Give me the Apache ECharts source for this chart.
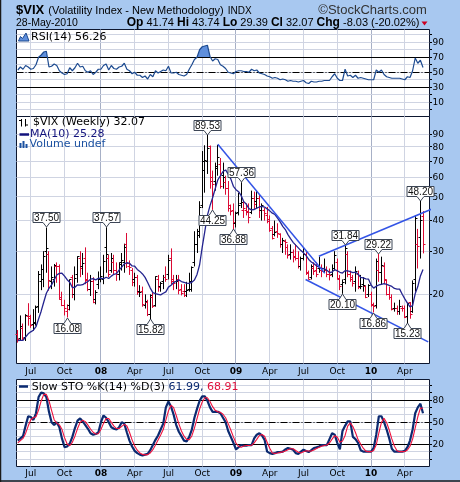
<!DOCTYPE html>
<html>
<head>
<meta charset="utf-8">
<title>$VIX weekly</title>
<script src="https://cdn.jsdelivr.net/npm/echarts@6/dist/echarts.min.js"></script>
<style>
  html, body { margin: 0; padding: 0; background: #a8c8f0; }
  #chart { width: 460px; height: 482px; }
</style>
</head>
<body>
<div id="chart"></div>
<script>
// ---------- weekly bars: Friday dates, 1 Jun 2007 .. 28 May 2010 ----------
const BAR_COUNT = 157;
const weeks = [];
for (let i = 0, t = Date.UTC(2007, 5, 1); i < BAR_COUNT; i++, t += 7 * 86400000) {
  weeks.push(new Date(t).toISOString().slice(0, 10));
}
// two empty slots to the right of the last bar
const categories = weeks.concat(['2010-06-04', '2010-06-11']);

const open = [
  13.7,13.2,14.5,13.3,16.3,16.0,15.1,15.3,17.8,22.5,
  23.0,30.0,29.0,22.5,23.0,26.0,26.0,19.5,18.0,17.0,
  18.0,23.5,20.0,24.0,28.0,26.0,28.0,23.0,21.0,22.5,
  19.0,22.0,23.0,23.0,31.0,28.0,25.0,27.0,25.0,24.0,
  27.0,27.0,32.0,26.0,25.0,23.0,23.5,20.5,20.5,18.0,
  18.5,16.5,19.5,18.0,23.0,21.5,22.5,23.5,24.0,28.0,
  23.0,22.5,23.0,21.0,20.5,20.5,21.0,21.0,27.0,32.0,
  36.0,46.0,64.0,70.0,80.0,58.0,58.0,65.0,68.0,61.0,
  57.0,54.0,46.0,44.0,39.0,43.0,47.0,44.0,44.0,43.0,
  43.0,49.0,48.0,49.0,44.0,44.0,42.0,40.5,37.0,35.0,
  36.0,35.0,32.0,33.0,31.0,29.0,29.5,28.5,28.0,26.0,
  28.0,29.0,24.5,23.5,25.5,25.0,25.5,25.0,25.5,25.0,
  24.0,24.0,25.5,27.0,23.0,22.0,23.0,29.0,24.0,23.0,
  22.5,24.0,21.5,22.0,21.5,20.0,20.0,18.0,18.0,25.0,
  24.5,26.0,23.0,20.0,19.5,17.5,17.5,17.0,17.5,17.5,
  16.2,18.5,17.0,23.0,32.0,34.0,41.74
];
const high = [
  14.3,16.4,15.2,16.6,18.4,16.5,17.4,18.0,24.9,26.5,
  30.0,37.50,30.0,26.0,26.6,27.0,26.5,20.5,19.0,18.2,
  23.0,24.0,26.0,28.6,30.0,29.5,31.1,24.5,24.0,23.5,
  20.8,24.8,26.0,29.0,37.57,29.0,29.5,29.0,27.0,27.0,
  29.5,32.2,35.6,27.5,25.6,24.5,24.0,21.8,21.5,20.0,
  19.0,20.0,20.3,23.7,24.0,22.5,24.0,26.0,29.0,30.8,
  24.0,24.0,24.0,22.0,22.0,22.5,24.5,26.0,36.2,37.0,
  48.0,76.9,81.2,89.53,81.0,64.0,69.0,81.48,72.0,69.0,
  61.0,58.0,46.5,47.0,43.5,52.0,57.36,48.0,47.0,47.0,
  53.0,52.5,53.0,51.0,47.0,45.0,45.5,42.0,38.0,40.0,
  39.0,35.5,34.0,33.5,32.0,32.0,30.5,32.0,30.0,28.5,
  31.0,30.0,25.0,26.5,27.0,27.0,28.5,26.5,28.0,26.0,
  25.5,26.5,30.0,28.0,24.0,23.0,31.84,30.0,25.0,24.0,
  26.0,25.0,24.0,23.5,21.7,22.0,20.5,18.5,28.0,29.22,
  28.5,27.0,23.0,21.5,20.0,18.5,18.0,19.0,18.0,18.0,
  18.5,18.6,22.8,42.15,37.0,48.20,43.74
];
const low = [
  12.7,12.9,12.9,12.9,14.9,14.6,14.2,14.9,16.8,20.8,
  21.4,24.5,20.7,21.0,21.5,22.3,19.0,17.9,16.4,16.08,
  17.2,19.3,18.9,22.3,23.5,24.0,22.0,20.6,19.7,18.4,
  18.2,21.0,22.4,22.0,24.5,23.5,24.5,24.0,22.7,22.8,
  25.0,24.5,25.6,24.0,21.6,21.5,19.9,19.5,17.8,17.5,
  16.3,15.82,17.6,17.8,20.5,20.5,21.0,22.5,23.0,22.0,
  20.8,21.0,20.0,19.8,19.5,19.5,20.5,20.5,26.0,29.5,
  34.0,45.0,52.0,62.0,54.0,44.25,53.0,61.0,54.0,54.0,
  51.0,43.5,42.0,36.88,37.5,42.0,45.0,41.0,42.0,39.0,
  42.5,44.5,45.0,41.0,40.0,40.0,39.0,36.0,33.5,34.5,
  34.0,31.0,29.5,29.0,28.0,27.7,27.0,27.5,25.5,25.0,
  27.5,24.0,23.0,23.0,24.0,23.5,24.5,23.5,24.5,23.5,
  22.8,23.5,25.0,23.0,20.8,20.10,22.0,23.5,22.5,21.5,
  20.5,21.0,21.0,20.5,19.3,19.5,17.8,16.86,17.5,22.5,
  22.0,22.0,19.8,19.0,17.2,17.0,16.5,16.5,17.0,16.0,
  15.23,15.9,16.8,20.5,25.5,28.0,29.39
];
const close = [
  13.05,14.73,13.22,16.40,16.23,14.98,15.15,17.61,24.17,25.16,
  28.44,30.67,22.88,23.38,26.23,26.00,19.00,18.00,17.50,17.40,
  22.96,19.97,23.21,28.50,25.49,26.84,22.87,20.85,22.60,18.47,
  20.26,23.17,23.68,27.18,29.02,24.02,28.01,25.02,24.06,26.54,
  27.49,31.16,26.62,25.71,22.45,23.46,20.29,20.34,18.18,18.78,
  16.47,19.82,17.83,23.56,21.35,22.24,23.44,23.00,27.49,22.48,
  22.19,22.57,20.66,20.13,19.82,20.65,22.64,25.66,32.07,34.74,
  45.14,69.95,70.33,79.13,59.89,56.10,66.31,72.67,55.28,59.93,
  54.28,44.93,43.38,39.19,42.82,46.11,47.27,44.84,43.37,41.25,
  49.30,46.35,49.33,43.91,45.89,42.64,39.70,36.53,33.94,35.84,
  35.30,32.05,33.12,32.63,28.92,29.62,28.15,27.99,25.93,27.95,
  29.02,24.34,23.09,25.92,24.80,24.20,25.01,24.76,25.26,24.15,
  23.92,25.61,28.68,23.12,21.43,22.27,30.69,24.19,23.36,22.19,
  24.74,21.25,21.59,21.68,19.47,21.68,18.13,17.91,27.31,24.62,
  26.11,22.73,20.02,19.50,17.42,17.58,16.97,17.77,17.47,16.14,
  18.36,16.62,22.05,40.95,31.24,40.10,32.07
];
const ma10 = [
  12.96,12.97,12.97,13.39,13.80,14.06,14.28,14.75,15.87,17.07,
  18.61,20.20,21.17,21.87,22.87,23.97,24.35,24.39,23.73,22.95,
  22.40,21.33,21.37,21.88,21.80,21.89,22.27,22.56,23.07,23.18,
  22.91,23.23,23.27,23.14,23.49,23.21,23.73,24.14,24.29,25.10,
  25.82,26.62,26.91,26.77,26.11,26.05,25.28,24.81,24.22,23.45,
  22.35,21.21,20.33,20.12,20.01,19.89,20.20,20.47,21.40,21.77,
  22.34,22.62,22.90,22.56,22.40,22.24,22.16,22.43,22.89,24.11,
  26.41,31.15,36.11,42.01,46.02,49.57,53.93,58.63,60.95,63.47,
  64.39,61.89,59.19,55.20,53.49,52.49,50.59,47.80,46.61,44.74,
  44.25,44.39,44.98,45.46,45.76,45.42,44.66,43.83,42.88,42.34,
  40.94,39.51,37.89,36.76,35.07,33.77,32.61,31.76,30.96,30.17,
  29.54,28.77,27.76,27.09,26.68,26.14,25.83,25.50,25.44,25.06,
  24.55,24.67,25.23,24.95,24.61,24.42,24.99,24.93,24.74,24.55,
  24.63,24.19,23.48,23.34,23.14,23.08,21.83,21.20,21.60,21.84,
  21.98,22.12,21.97,21.75,21.54,21.13,21.02,21.00,20.02,19.17,
  18.40,17.79,17.99,20.13,21.52,23.77,25.28
];
const rsi14 = [
  53,57,54,59,57,54,55,60,70,73,
  77,78,57,58,61,59,52,49,47,48,
  56,52,56,62,57,58,52,50,52,47,
  50,54,54,59,61,53,59,55,54,57,
  58,62,54,52,48,50,46,46,43,45,
  41,47,44,52,49,51,53,52,58,49,
  49,50,47,46,45,47,54,60,67,70,
  80,84,85,86,71,65,68,67,60,58,
  55,50,49,48,51,52,52,51,51,50,
  54,52,53,49,48,47,45,44,42,43,
  42,40,41,40,38,39,38,38,37,38,
  39,36,35,38,37,37,38,38,39,39,
  39,44,48,42,39,39,54,45,46,43,
  46,42,43,42,41,40,40,40,53,50,
  53,47,44,43,42,42,42,42,41,40,
  44,43,52,69,62,66,56.26
];
const stoK = [
  25,28,31,45,58,57,53,62,84,90,
  89,84,64,50,46,50,43,28,16,17,
  21,30,42,52,55,51,46,41,35,33,
  34,36,50,59,56,50,43,41,40,43,
  50,48,36,25,17,11,8,6,5,6,
  7,12,19,26,32,40,48,70,78,71,
  60,46,37,31,25,24,30,40,56,68,
  79,85,85,79,70,64,64,64,62,56,
  50,38,30,22,13,16,19,18,18,19,
  19,28,33,35,32,26,10,8,7,8,
  9.5,9.5,10,13,15,14,12.6,8,7,10,
  12.6,11,9.5,12,15,15.8,17,19,19,19,
  27,35,33,22,13,38,45,51,51,30,
  27,22,12,10,10,10,10,15,33,58,
  58,50,40,28,14,10,10,10,10,11,
  16,25,40,62,70,75,61.99
];
const stoD = [
  22,25,28,34.7,44.7,53.3,56,57.3,66.3,78.7,
  87.7,87.7,79,66,53.3,48.7,46.3,40.3,29,20.3,
  18,22.7,31,41.3,49.7,52.7,50.7,46,40.7,36.3,
  34,34.3,40,48.3,55,55,49.7,44.7,41.3,41.3,
  44.3,47,44.7,36.3,26,17.7,12,8.3,6.3,5.7,
  6,8.3,12.7,19,25.7,32.7,40,52.7,65.3,73,
  69.7,59,47.7,38,31,26.7,26.3,31.3,42,54.7,
  67.7,77.3,83,83,78,71,66,64,63.3,60.7,
  56,48,39.3,30,21.7,17,16,17.7,18.3,18.3,
  18.7,22,26.7,32,33.3,31,22.7,14.7,8.3,7.7,
  8.2,9,9.7,10.8,12.7,14,13.9,11.5,9.2,8.3,
  9.9,11.2,11,10.8,12.2,14.3,15.9,17.3,18.3,19,
  21.7,27,31.7,30,22.7,24.3,32,44.7,49,44,
  36,26.3,20.3,14.7,10.7,10,10,11.7,19.3,35.3,
  49.7,55.3,49.3,39.3,27.3,17.3,11.3,10,10,10.3,
  12.3,17.3,27,42.3,57.3,69,68.91
];

// axis ticks and labels
const priceTicks = [20, 30, 40, 50, 60, 70, 80, 90];
const oscGrid = [0, 10, 20, 30, 40, 50, 60, 70, 80, 90, 100];
const rsiLabels = [10, 30, 50, 70, 90];
const stoLabels = [20, 50, 80];
const monthNames = ['Jan','Feb','Mar','Apr','May','Jun','Jul','Aug','Sep','Oct','Nov','Dec'];

// callouts on swing highs (H) and lows (L)
const calloutIndex = [11, 19, 34, 51, 73, 75, 83, 86, 125, 126, 137, 139, 150, 155];
const calloutValue = [37.50, 16.08, 37.57, 15.82, 89.53, 44.25, 36.88, 57.36, 20.10, 31.84, 16.86, 29.22, 15.23, 48.20];
const calloutSide = ['H','L','H','L','H','L','L','H','L','H','L','H','L','H'];

// hand-drawn trend lines, as [bar index, price] end points
const trendDown = [[77.0, 81.9], [118.2, 24.4]];
const channelTop = [[115.9, 28.6], [166.0, 47.7]];
const channelBottom = [[110.8, 23.0], [158.0, 12.8]];

// ---------- helpers ----------
const DAY = 86400000;
const mondayOf = i => new Date(Date.parse(weeks[i]) - 4 * DAY);
// first weekly bar whose Monday falls in Jan / Apr / Jul / Oct
const quarterStarts = [];
for (let i = 1; i < BAR_COUNT; i++) {
  const a = mondayOf(i - 1).getUTCMonth(), b = mondayOf(i).getUTCMonth();
  if (a !== b && b % 3 === 0) quarterStarts.push(i);
}
const quarterSet = new Set(quarterStarts);

const barColor = close.map((c, i) => (c >= (i ? close[i - 1] : open[0]) ? '#000000' : '#dc0a34'));

const snap = v => Math.round(v - 0.5) + 0.5;
const GRID_LINE = '#cfd4e2';
const YEAR_LINE = '#a7b0c6';
const AXIS_FONT = '9px "DejaVu Sans", Verdana, sans-serif';

function panelDecor(idx, cfg) {
  return {
    type: 'custom', xAxisIndex: idx, yAxisIndex: idx, z: 1, silent: true, clip: false,
    data: [[0, 50]],
    renderItem(params, api) {
      const cs = params.coordSys;
      const left = cs.x, right = cs.x + cs.width, top = cs.y, bottom = cs.y + cs.height;
      const kids = [];
      quarterStarts.forEach(i => {
        const x = snap(api.coord([i, 50])[0]);
        const yr = mondayOf(i).getUTCMonth() === 0;
        kids.push({ type: 'line', shape: { x1: x, y1: top, x2: x, y2: bottom },
          style: { stroke: yr ? YEAR_LINE : GRID_LINE, lineWidth: 1 } });
      });
      cfg.grid.forEach(v => {
        const y = snap(api.coord([0, v])[1]);
        kids.push({ type: 'line', shape: { x1: left, y1: y, x2: right, y2: y },
          style: { stroke: GRID_LINE, lineWidth: 1 } });
      });
      cfg.grid.forEach(v => {
        const y = snap(api.coord([0, v])[1]);
        kids.push({ type: 'line', shape: { x1: right, y1: y, x2: right + 2.5, y2: y },
          style: { stroke: '#000', lineWidth: 1 } });
      });
      cfg.labels.forEach(v => {
        const y = api.coord([0, v])[1];
        kids.push({ type: 'text', style: { text: String(v), x: right + 3, y: y + 0.5, font: AXIS_FONT, fill: '#000',
          align: 'left', textAlign: 'left', verticalAlign: 'middle', textVerticalAlign: 'middle' } });
      });
      return { type: 'group', children: kids };
    }
  };
}

function panelRefs(idx, refs) {
  return {
    type: 'custom', xAxisIndex: idx, yAxisIndex: idx, z: 3, silent: true,
    data: [[0, 50]],
    renderItem(params, api) {
      const cs = params.coordSys;
      return { type: 'group', children: refs.map(r => {
        const y = snap(api.coord([0, r.v])[1]);
        return { type: 'line', shape: { x1: cs.x, y1: y, x2: cs.x + cs.width, y2: y },
          style: { stroke: '#000', lineWidth: 1, lineDash: r.dash || null } };
      }) };
    }
  };
}

// ---------- series ----------
const rsiFill = {
  type: 'custom', xAxisIndex: 0, yAxisIndex: 0, z: 2, silent: true,
  data: [[0, 50]],
  renderItem(params, api) {
    const base = 70, polys = [];
    let run = null;
    const cross = (i) => {
      const u = rsi14[i - 1], v = rsi14[i];
      const p0 = api.coord([i - 1, u]), p1 = api.coord([i, v]);
      const t = (base - u) / (v - u);
      return [p0[0] + t * (p1[0] - p0[0]), api.coord([i, base])[1]];
    };
    for (let i = 0; i < rsi14.length; i++) {
      const v = rsi14[i];
      if (v > base) {
        if (!run) { run = [i > 0 ? cross(i) : api.coord([i, base])]; }
        run.push(api.coord([i, v]));
      } else if (run) {
        run.push(cross(i)); polys.push(run); run = null;
      }
    }
    if (run) { run.push(api.coord([rsi14.length - 1, base])); polys.push(run); }
    return { type: 'group', children: polys.map(p => ({ type: 'polygon', shape: { points: p },
      style: { fill: '#5f8fdc', stroke: null } })) };
  }
};

const barSeries = {
  type: 'custom', xAxisIndex: 1, yAxisIndex: 1, z: 4, silent: true,
  encode: { x: 0, y: [1, 2, 3, 4] },
  data: weeks.map((d, i) => [i, open[i], high[i], low[i], close[i]]),
  renderItem(params, api) {
    const i = api.value(0);
    const pH = api.coord([i, api.value(2)]);
    const pL = api.coord([i, api.value(3)]);
    const yO = snap(api.coord([i, api.value(1)])[1]);
    const yC = snap(api.coord([i, api.value(4)])[1]);
    const x = snap(pH[0]);
    const st = { stroke: barColor[params.dataIndex], lineWidth: 1 };
    return { type: 'group', children: [
      { type: 'line', shape: { x1: x, y1: pH[1], x2: x, y2: pL[1] }, style: st },
      { type: 'line', shape: { x1: x - 2, y1: yO, x2: x, y2: yO }, style: st },
      { type: 'line', shape: { x1: x, y1: yC, x2: x + 2, y2: yC }, style: st }
    ] };
  }
};

const calloutSeries = {
  type: 'custom', xAxisIndex: 1, yAxisIndex: 1, z: 8, silent: true, clip: false,
  data: calloutIndex.map((i, k) => [i, calloutValue[k]]),
  renderItem(params, api) {
    const k = params.dataIndex;
    const p = api.coord([api.value(0), api.value(1)]);
    const x = snap(p[0]), y = Math.round(p[1]);
    const w = 27, h = 10, ph = 5, pw = 3.5;
    let pts, ty;
    if (calloutSide[k] === 'H') {
      const b = y - ph + 0.5, t = b - h;
      pts = [[x - w / 2, t], [x + w / 2, t], [x + w / 2, b], [x + pw, b], [x, y], [x - pw, b], [x - w / 2, b]];
      ty = (t + b) / 2;
    } else {
      const t = y + ph + 0.5, b = t + h;
      pts = [[x - w / 2, t], [x - pw, t], [x, y], [x + pw, t], [x + w / 2, t], [x + w / 2, b], [x - w / 2, b]];
      ty = (t + b) / 2;
    }
    return { type: 'group', children: [
      { type: 'polygon', shape: { points: pts }, style: { fill: '#ffffff', stroke: '#3d4656', lineWidth: 1 } },
      { type: 'text', style: { text: calloutValue[k].toFixed(2), x: x, y: ty + 0.5,
        font: '10px "Liberation Sans", Arial, sans-serif', fill: '#111',
        align: 'center', textAlign: 'center', verticalAlign: 'middle', textVerticalAlign: 'middle' } }
    ] };
  }
};

function trendSeries(pts) {
  return { type: 'line', xAxisIndex: 3, yAxisIndex: 1, data: pts, symbol: 'none', showSymbol: false,
    clip: false, silent: true, z: 7, lineStyle: { color: '#3354e6', width: 1.5 } };
}

function lineSeries(idx, data, color, width, z) {
  return { type: 'line', xAxisIndex: idx, yAxisIndex: idx, data, symbol: 'none', showSymbol: false,
    silent: true, z, lineStyle: { color, width } };
}

function catAxis(g, labels, margin) {
  return {
    type: 'category', gridIndex: g, data: categories, boundaryGap: true, show: labels,
    axisLine: { show: false }, axisTick: { show: false }, splitLine: { show: false },
    axisLabel: {
      show: labels, margin,
      interval: (i) => quarterSet.has(i),
      formatter: (v, i) => {
        const m = mondayOf(i);
        return m.getUTCMonth() === 0 ? '{y|' + String(m.getUTCFullYear()).slice(2) + '}' : monthNames[m.getUTCMonth()];
      },
      fontFamily: '"DejaVu Sans", Verdana, sans-serif', fontSize: 9, color: '#000',
      rich: { y: { fontFamily: '"DejaVu Sans", Verdana, sans-serif', fontSize: 9, fontWeight: 'bold', color: '#000' } }
    }
  };
}

const PANEL = { show: true, left: 16.5, width: 413, backgroundColor: '#ffffff', borderColor: '#0d1730', borderWidth: 1 };

// ---------- header, legends ----------
const F = '"Liberation Sans", Arial, sans-serif';
const D = '"DejaVu Sans", Verdana, sans-serif';
const T = (x, y, text, font, fill) => ({ type: 'text', x, y, silent: true, z: 20,
  style: { text, font, fill: fill || '#000', align: 'left', textAlign: 'left', verticalAlign: 'middle', textVerticalAlign: 'middle' } });
const L = (x1, y1, x2, y2, stroke, lw) => ({ type: 'line', silent: true, z: 20,
  shape: { x1, y1, x2, y2 }, style: { stroke, lineWidth: lw || 1 } });

const quoteLine = '{b|Op}{n| 41.74 }{b|Hi}{n| 43.74 }{b|Lo}{n| 29.39 }{b|Cl}{n| 32.07 }{b|Chg}{n| -8.03 (-20.02%)}';

const graphics = [
  T(16, 10.5, '$VIX', 'bold 13px ' + F),
  T(48.3, 11, '(Volatility Index - New Methodology)', '11px ' + F),
  T(227.7, 11, 'INDX', '10px ' + F),
  T(318.3, 10.5, '\u00A9StockCharts.com', '13px ' + F, '#333'),
  T(16, 23, '28-May-2010', '10.5px ' + F),
  { type: 'text', x: 126.7, y: 23, silent: true, z: 20,
    style: { text: quoteLine, font: '11px ' + F, fill: '#000',
      align: 'left', textAlign: 'left', verticalAlign: 'middle', textVerticalAlign: 'middle',
      rich: { b: { font: 'bold 12px ' + F, fill: '#000' }, n: { font: '11px ' + F, fill: '#000' } } } },
  { type: 'polygon', silent: true, z: 20, shape: { points: [[421.5, 21.5], [427.5, 21.5], [424.5, 25.5]] }, style: { fill: '#cc0022' } },

  // RSI legend
  { type: 'polygon', silent: true, z: 20, shape: { points: [[18.5, 41], [20.5, 36.5], [22.5, 38.5], [26, 33], [29, 41]] },
    style: { fill: '#5f8fdc', stroke: '#1c4a90', lineWidth: 1 } },
  T(31, 37, 'RSI(14) 56.26', '11px ' + D),

  // price legend
  L(21.5, 119, 21.5, 126.5, '#000'), L(19, 120.5, 21.5, 120.5, '#000'),
  L(25.5, 119, 25.5, 126.5, '#000'), L(25.5, 125, 28, 125, '#000'),
  T(33, 122.5, '$VIX (Weekly) 32.07', '11px ' + D),
  L(19.5, 134.5, 29, 134.5, '#12127c', 2.5),
  T(30, 134.5, 'MA(10) 25.28', '11px ' + D, '#12127c'),
  { type: 'rect', silent: true, z: 20, shape: { x: 19.5, y: 143, width: 2, height: 5 }, style: { fill: '#1a50a0' } },
  { type: 'rect', silent: true, z: 20, shape: { x: 22.5, y: 141, width: 2, height: 7 }, style: { fill: '#1a50a0' } },
  { type: 'rect', silent: true, z: 20, shape: { x: 25.5, y: 144, width: 2, height: 4 }, style: { fill: '#1a50a0' } },
  T(29.5, 144.5, 'Volume undef', '11px ' + D, '#1a50a0'),

  // stochastic legend
  L(19, 386.5, 28, 386.5, '#0b2a70', 2.5),
  { type: 'text', x: 31.7, y: 387, silent: true, z: 20,
    style: { text: '{a|Slow STO %K(14) %D(3) }{b|61.99,}{c| 68.91}', font: '11px ' + D,
      align: 'left', textAlign: 'left', verticalAlign: 'middle', textVerticalAlign: 'middle',
      rich: { a: { fill: '#000', font: '11px ' + D }, b: { fill: '#0b2a70', font: '11px ' + D }, c: { fill: '#e0103a', font: '11px ' + D } } } },

  // outer frame
  L(0.5, 0, 0.5, 482, '#1a1a1a', 1.5),
  L(0, 481, 460, 481, '#1a1a1a', 1.5)
];

// ---------- chart ----------
const chart = echarts.init(document.getElementById('chart'), null, { renderer: 'canvas' });
chart.setOption({
  animation: false,
  backgroundColor: '#a8c8f0',
  grid: [
    Object.assign({ top: 29.5, height: 87 }, PANEL),
    Object.assign({ top: 116.5, height: 247 }, PANEL),
    Object.assign({ top: 379.5, height: 87 }, PANEL)
  ],
  xAxis: [
    catAxis(0, false, 0),
    catAxis(1, true, 4),
    catAxis(2, true, 2.5),
    { type: 'value', gridIndex: 1, position: 'top', min: -0.5, max: categories.length - 0.5, show: false }
  ],
  yAxis: [
    { type: 'value', gridIndex: 0, min: -9, max: 107, show: false },
    { type: 'log', gridIndex: 1, min: 10.44, max: 106.4, show: false },
    { type: 'value', gridIndex: 2, min: -10.1, max: 107.8, show: false }
  ],
  graphic: { elements: graphics },
  series: [
    panelDecor(0, { grid: oscGrid, labels: rsiLabels }),
    panelDecor(1, { grid: priceTicks, labels: priceTicks }),
    panelDecor(2, { grid: oscGrid, labels: stoLabels }),
    rsiFill,
    panelRefs(0, [{ v: 70 }, { v: 30 }, { v: 50, dash: [7, 2, 1, 2] }]),
    lineSeries(0, rsi14, '#1c4a90', 1.2, 4),
    barSeries,
    lineSeries(1, ma10, '#24248f', 1.3, 5),
    trendSeries(trendDown),
    trendSeries(channelTop),
    trendSeries(channelBottom),
    calloutSeries,
    panelRefs(2, [{ v: 80 }, { v: 20 }, { v: 50, dash: [7, 2, 1, 2] }]),
    lineSeries(2, stoK, '#0b2a70', 2.2, 4),
    lineSeries(2, stoD, '#f0103c', 1.1, 5)
  ]
});
</script>
</body>
</html>
